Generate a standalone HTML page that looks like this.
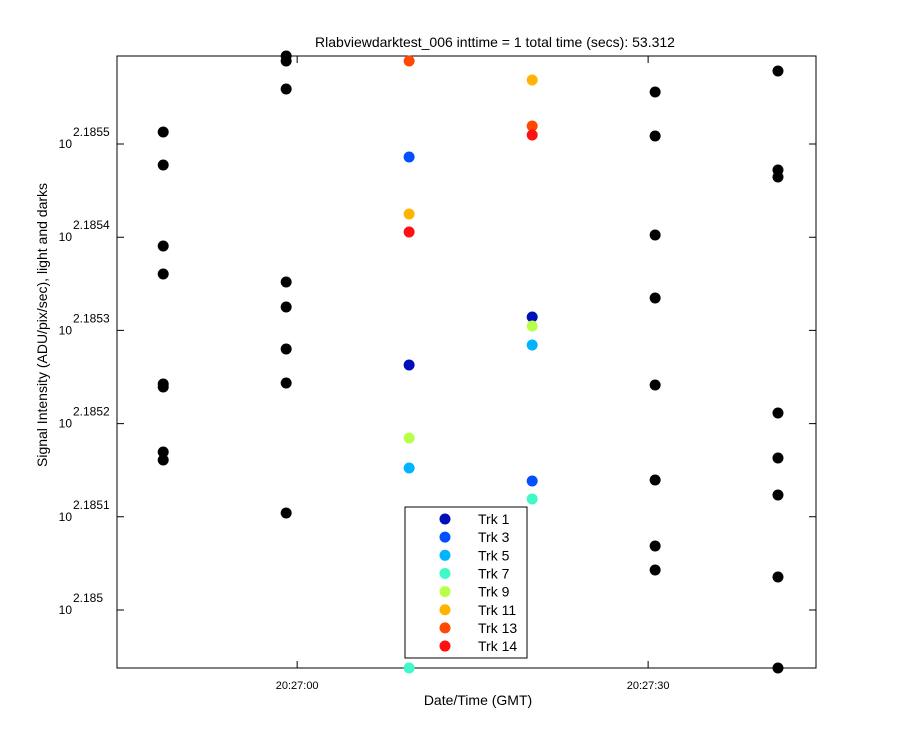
<!DOCTYPE html>
<html><head><meta charset="utf-8"><style>
body{margin:0;background:#fff;}
svg{display:block;font-family:"Liberation Sans",Arial,sans-serif;}
</style></head><body>
<svg id="chart" width="900" height="750" xmlns="http://www.w3.org/2000/svg"></svg>
<script>
const blackX = [-11.45,-0.94,30.6,41.1];
const blackY = [
 [2.1855129,2.1854775,2.1853906,2.1853605,2.1852425,2.1852393,2.1851695,2.1851609],
 [2.1855944,2.1855891,2.1855590,2.1853519,2.1853251,2.1852800,2.1852436,2.1851041],
 [2.1855558,2.1855086,2.1854024,2.1853348,2.1852414,2.1851395,2.1850687,2.1850429],
 [2.1855783,2.1854721,2.1854646,2.1852114,2.1851631,2.1851234,2.1850354,2.1849378]
];
const trackNames = ["Trk 1","Trk 3","Trk 5","Trk 7","Trk 9","Trk 11","Trk 13","Trk 14"];
const trackColors = ["#0010b8","#0050ff","#00b4ff","#40f8c8","#b8ff48","#ffb400","#ff4800","#ff1010"];
const trackX = [9.57,20.09];
const trackYa = [2.1852629,2.1854861,2.1851524,2.1849378,2.1851845,2.1854249,2.1855891,2.1854056];
const trackYb = [2.1853144,2.1851384,2.1852843,2.1851191,2.1853047,2.1855687,2.1855193,2.1855097];
const yTicks = [2.185,2.1851,2.1852,2.1853,2.1854,2.1855];
const xTicks = [0,30];
const xTickLabels = ["20:27:00","20:27:30"];

const L=117,R=816,T=56,B=668;
const x0=-15.4,x1=44.35;
const yRef=2.185, yRefPx=610, pxPer=932000;
function sx(v){return L+(v-x0)/(x1-x0)*(R-L);}
function sy(v){return yRefPx-(v-yRef)*pxPer;}
const svg=document.getElementById('chart');
const NS="http://www.w3.org/2000/svg";
function mk(tag,attrs,parent){const e=document.createElementNS(NS,tag);for(const k in attrs)e.setAttribute(k,attrs[k]);(parent||svg).appendChild(e);return e;}

let t=mk('text',{x:495,y:47,'font-size':14,'text-anchor':'middle'});


t.textContent="Rlabviewdarktest_006 inttime = 1 total time (secs): 53.312";

let frame=mk('rect',{x:L,y:T,width:R-L,height:B-T,fill:'#fff',stroke:'#000','stroke-width':1});



yTicks.forEach((v,i)=>{
 const y=sy(v);
 let tk=mk('path',{d:`M${L} ${y}H${L+7}M${R} ${y}H${R-7}`,stroke:'#000'});
 
 
 let g=mk('text',{x:72,y:y+4,'font-size':12,'text-anchor':'end'});
 
 
 g.textContent="10";
 let e=mk('text',{x:73,y:y-8,'font-size':12});
 
 
 e.textContent=String(v);
});
xTicks.forEach((v,i)=>{
 const x=sx(v);
 let tk=mk('path',{d:`M${x} ${B}V${B-7}M${x} ${T}V${T+7}`,stroke:'#000'});
 
 
 let l=mk('text',{x:x,y:B+21,'font-size':11,'text-anchor':'middle'});
 
 
 l.textContent=xTickLabels[i];
});

let xt=mk('text',{x:478,y:705,'font-size':14,'text-anchor':'middle'});


xt.textContent="Date/Time (GMT)";
let yt=mk('text',{x:0,y:0,'font-size':14,'text-anchor':'middle',transform:'translate(47,325) rotate(-90)'});


yt.textContent="Signal Intensity (ADU/pix/sec), light and darks";

blackX.forEach((xv,i)=>{
 blackY[i].forEach(yv=>{
  let c=mk('circle',{cx:sx(xv),cy:sy(yv),r:5.5,fill:'#000'});
  
  
 });
});
trackNames.forEach((n,i)=>{
 [trackYa[i],trackYb[i]].forEach((yv,j)=>{
  let c=mk('circle',{cx:sx(trackX[j]),cy:sy(yv),r:5.5,fill:trackColors[i]});
  
  
 });
});

let lg=mk('rect',{x:405,y:507,width:122,height:151,fill:'#fff',stroke:'#000'});


trackNames.forEach((n,i)=>{
 const y=519+i*18.15;
 let c=mk('circle',{cx:445,cy:y,r:5.5,fill:trackColors[i]});
 
 
 let tx=mk('text',{x:478,y:y+5,'font-size':14});
 
 
 tx.textContent=n;
});
</script>
</body></html>
